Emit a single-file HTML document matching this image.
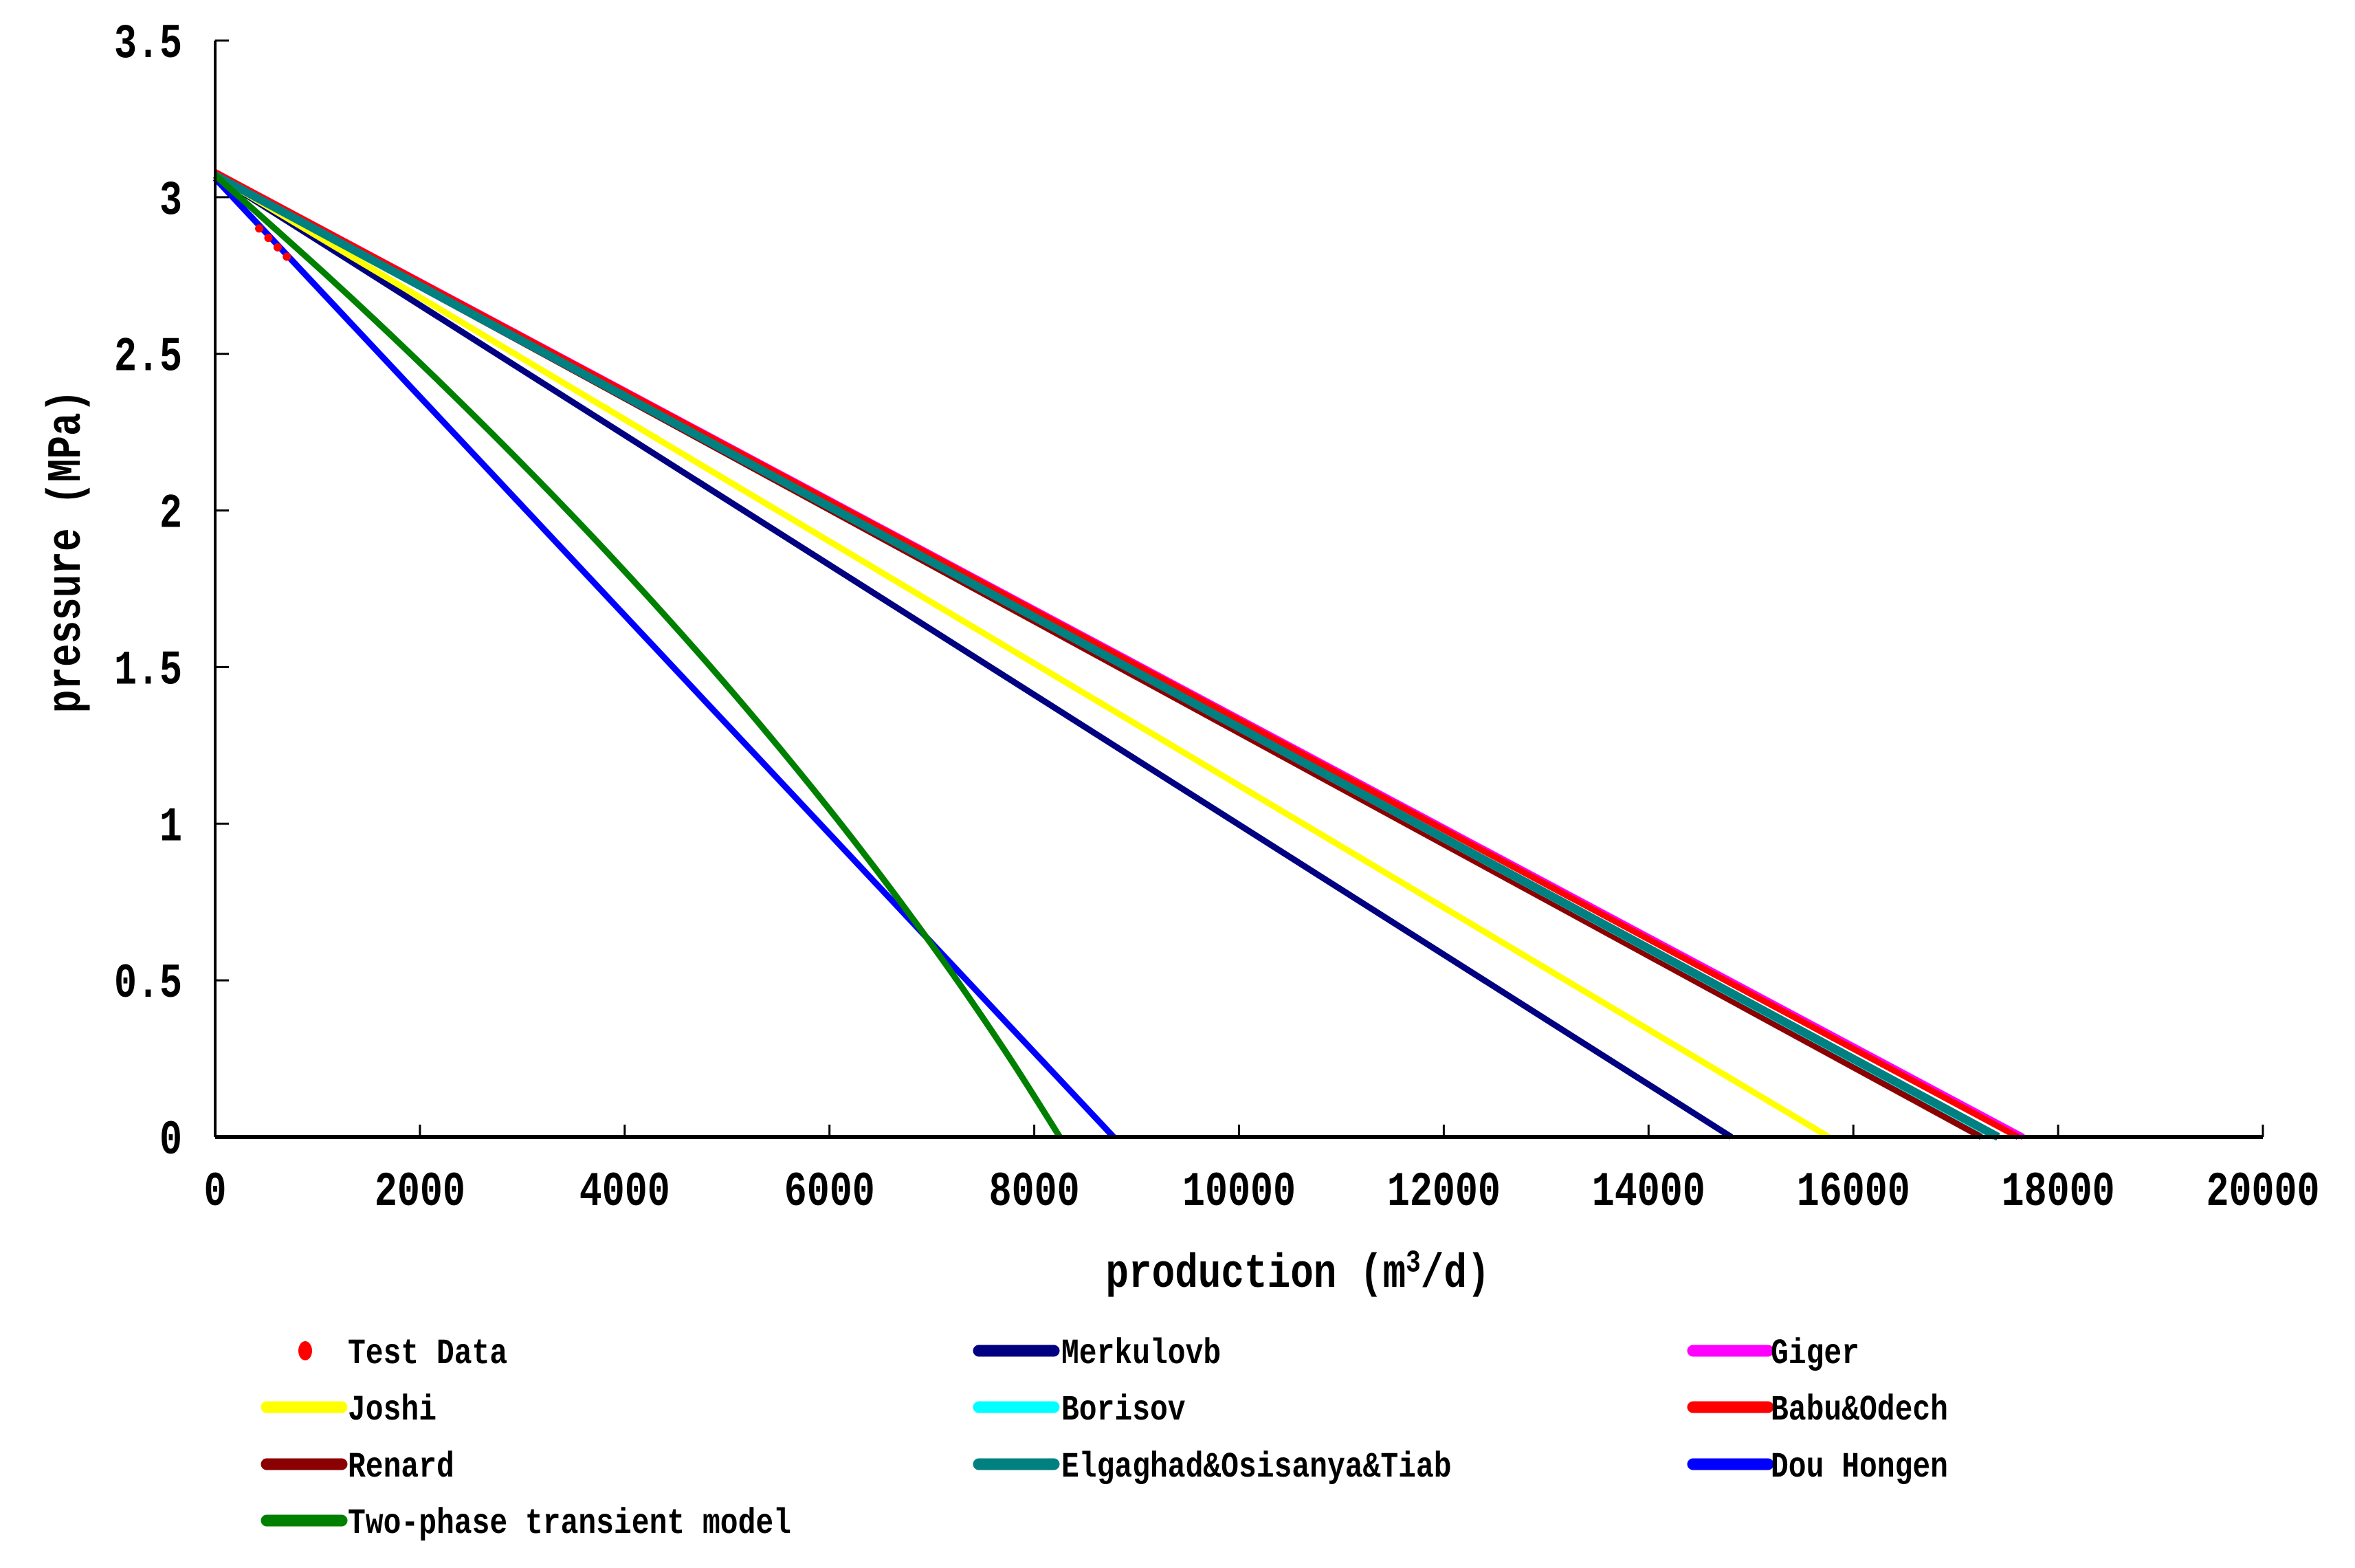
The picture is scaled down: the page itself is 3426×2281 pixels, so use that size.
<!DOCTYPE html>
<html><head><meta charset="utf-8"><style>
html,body{margin:0;padding:0;background:#fff;}
svg{display:block;}
text{font-family:"Liberation Mono","Noto Sans CJK SC",monospace;font-weight:bold;fill:#000;}
</style></head><body>
<svg id="chart" width="3426" height="2281" viewBox="0 0 3426 2281" xmlns="http://www.w3.org/2000/svg">
<g id="plot"></g>
<g id="axes"></g>
<text transform="translate(1888,1872) scale(1,1.25)" text-anchor="middle" font-size="56">production (m<tspan font-size="36" dy="-18">3</tspan><tspan dy="18">/d)</tspan></text>
<text transform="translate(116,802) rotate(-90) scale(1,1.25)" text-anchor="middle" font-size="56">pressure (MPa)</text>
<g id="legend"></g>
</svg>
<script>
const xTicks=[0,2000,4000,6000,8000,10000,12000,14000,16000,18000,20000];
const yTicks=[0,0.5,1,1.5,2,2.5,3,3.5];
const yTickLabels=["0","0.5","1","1.5","2","2.5","3","3.5"];
const seriesNames=["Merkulovb","Giger","Joshi","Borisov","Babu&Odech","Renard","Elgaghad&Osisanya&Tiab","Dou Hongen","Two-phase transient model"];
const seriesColors=["#000080","#ff00ff","#ffff00","#00ffff","#ff0000","#8b0000","#008080","#0000ff","#008000"];
const merkulovX=[0,14808];const merkulovY=[3.07,0];
const gigerX=[0,17660];const gigerY=[3.08,0];
const joshiX=[0,15760];const joshiY=[3.07,0];
const borisovX=[0,17380];const borisovY=[3.07,0];
const babuX=[0,17610];const babuY=[3.08,0];
const renardX=[0,17250];const renardY=[3.07,0];
const elgX=[0,17415];const elgY=[3.07,0];
const douX=[0,8775];const douY=[3.06,0];
const twoX=[0,1092,1908,2690,3441,4157,4841,5492,6110,6694,7246,7765,8250];
const twoY=[3.07,2.75,2.5,2.25,2.0,1.75,1.5,1.25,1.0,0.75,0.5,0.25,0];
const testX=[430,520,610,700];
const testY=[2.9,2.87,2.84,2.81];
const seriesX=[merkulovX,gigerX,joshiX,borisovX,babuX,renardX,elgX,douX,twoX];
const seriesY=[merkulovY,gigerY,joshiY,borisovY,babuY,renardY,elgY,douY,twoY];
const L=313,R=3292,T=59,B=1654;
const xs=v=>L+(v-0)/(20000-0)*(R-L);
const ys=v=>B-(v-0)/(3.5-0)*(B-T);
const NS="http://www.w3.org/2000/svg";
function mk(tag,attrs,parent){const e=document.createElementNS(NS,tag);for(const k in attrs)e.setAttribute(k,attrs[k]);parent.appendChild(e);return e;}
function pathD(X,Y){
  const p=X.map((x,j)=>[xs(x),ys(Y[j])]);
  if(p.length<3)return 'M'+p.map(q=>q[0].toFixed(1)+','+q[1].toFixed(1)).join(' L');
  let d='M'+p[0][0].toFixed(1)+','+p[0][1].toFixed(1);
  for(let i=0;i<p.length-1;i++){
    const p0=p[Math.max(0,i-1)],p1=p[i],p2=p[i+1],p3=p[Math.min(p.length-1,i+2)];
    const c1=[p1[0]+(p2[0]-p0[0])/6,p1[1]+(p2[1]-p0[1])/6];
    const c2=[p2[0]-(p3[0]-p1[0])/6,p2[1]-(p3[1]-p1[1])/6];
    d+=' C'+c1.map(v=>v.toFixed(1)).join(',')+' '+c2.map(v=>v.toFixed(1)).join(',')+' '+p2[0].toFixed(1)+','+p2[1].toFixed(1);
  }
  return d;
}
const plot=document.getElementById('plot'),axes=document.getElementById('axes'),legend=document.getElementById('legend');
const drawOrder=[0,2,1,4,5,3,6,7,8];
drawOrder.forEach(i=>{
  const p=mk('path',{d:pathD(seriesX[i],seriesY[i]),fill:'none',stroke:seriesColors[i],'stroke-width':i===6?12:9,'stroke-linejoin':'round'},plot);
  
  
});
testX.forEach((x,j)=>{
  const c=mk('circle',{cx:xs(x),cy:ys(testY[j]),r:6,fill:'#ff0000'},plot);
  
  
});
const ya=mk('line',{x1:L,y1:T,x2:L,y2:B,stroke:'#000','stroke-width':4},axes);


const xa=mk('line',{x1:L,y1:B,x2:R,y2:B,stroke:'#000','stroke-width':6},axes);


xTicks.forEach(v=>{
  mk('line',{x1:xs(v),y1:B,x2:xs(v),y2:B-18,stroke:'#000','stroke-width':3},axes);
  const t=mk('text',{transform:'translate('+xs(v)+',1753) scale(1,1.28)','text-anchor':'middle','font-size':55},axes);
  t.textContent=String(v);
  
  
});
yTicks.forEach((v,i)=>{
  mk('line',{x1:L,y1:ys(v),x2:L+20,y2:ys(v),stroke:'#000','stroke-width':3},axes);
  const t=mk('text',{transform:'translate(265,'+(ys(v)+24)+') scale(1,1.28)','text-anchor':'end','font-size':55},axes);
  t.textContent=yTickLabels[i];
  
  
});
const legItems=[["Test Data",null],["Merkulovb",0],["Giger",1],["Joshi",2],["Borisov",3],["Babu&Odech",4],["Renard",5],["Elgaghad&Osisanya&Tiab",6],["Dou Hongen",7],["Two-phase transient model",8]];
const colSw=[380,1416,2455],colTx=[506,1544,2576],rowC=[1965,2047,2130,2212];
legItems.forEach((it,k)=>{
  const r=Math.floor(k/3),c=k%3;
  const g=mk('g',{},legend);
  
  
  if(it[1]===null){mk('ellipse',{cx:444,cy:rowC[r],rx:10,ry:14,fill:'#ff0000'},g);}
  else{mk('line',{x1:colSw[c]+8,y1:rowC[r],x2:colSw[c]+117,y2:rowC[r],stroke:seriesColors[it[1]],'stroke-width':17,'stroke-linecap':'round'},g);}
  const t=mk('text',{transform:'translate('+colTx[c]+','+(rowC[r]+18)+') scale(1,1.2)','font-size':43},g);
  t.textContent=it[0];
});
</script>
</body></html>
